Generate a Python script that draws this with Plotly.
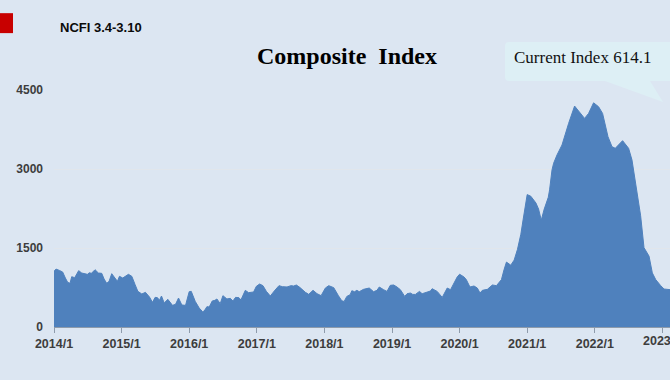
import plotly.graph_objects as go

years = [2014.000,2014.030,2014.079,2014.128,2014.168,2014.202,2014.237,2014.262,2014.306,2014.365,2014.410,2014.494,2014.523,2014.553,2014.607,2014.657,2014.706,2014.741,2014.780,2014.815,2014.854,2014.904,2014.938,2014.968,
2015.017,2015.101,2015.151,2015.200,2015.240,2015.299,2015.353,2015.412,2015.457,2015.496,2015.531,2015.560,2015.590,2015.630,2015.684,2015.753,2015.798,2015.842,2015.891,2015.946,
2016.000,2016.030,2016.089,2016.148,2016.198,2016.222,2016.262,2016.296,2016.341,2016.380,2016.410,2016.459,2016.499,2016.558,2016.607,2016.647,2016.686,2016.736,2016.765,2016.830,2016.879,2016.953,2016.993,
2017.042,2017.091,2017.141,2017.200,2017.259,2017.328,2017.378,2017.427,2017.447,2017.506,2017.546,2017.585,2017.635,2017.719,2017.768,2017.832,2017.891,2017.951,
2018.015,2018.064,2018.138,2018.208,2018.257,2018.292,2018.332,2018.381,2018.406,2018.446,2018.480,2018.515,2018.579,2018.663,2018.728,2018.777,2018.812,2018.876,2018.926,2018.975,
2019.025,2019.074,2019.124,2019.188,2019.223,2019.272,2019.307,2019.347,2019.406,2019.446,2019.505,2019.569,2019.594,2019.668,2019.743,2019.817,2019.866,2019.901,2019.965,
2020.000,2020.064,2020.099,2020.153,2020.213,2020.262,2020.302,2020.337,2020.411,2020.485,2020.545,2020.619,2020.658,2020.693,2020.757,2020.807,2020.856,2020.906,2020.941,2020.970,
2021.000,2021.054,2021.129,2021.168,2021.208,2021.252,2021.312,2021.331,2021.367,2021.391,2021.441,2021.515,2021.564,2021.613,2021.701,2021.786,2021.849,2021.908,2021.982,
2022.056,2022.115,2022.155,2022.195,2022.254,2022.303,2022.411,2022.500,2022.550,2022.624,2022.678,2022.728,2022.802,2022.851,2022.901,2022.975,
2023.025,2023.124]

index_values = [1057,1100,1075,1044,930,848,829,955,936,1070,1025,1000,1030,1019,1088,1025,1019,911,829,867,1012,911,867,962,
930,1000,962,804,677,627,658,570,468,563,557,506,588,456,525,411,430,550,418,411,
671,677,487,360,291,304,386,380,494,506,532,443,595,532,544,494,563,557,513,696,652,665,772,
816,785,677,588,684,785,766,766,760,785,778,797,753,658,620,696,633,595,
741,785,747,593,498,485,581,613,689,670,696,670,715,740,670,696,759,708,676,791,
798,759,708,581,632,645,619,619,676,632,651,683,727,676,562,740,708,804,951,
1002,951,900,759,779,740,645,696,715,798,785,900,1091,1232,1174,1270,1474,1761,2049,2304,
2514,2482,2355,2240,2029,2240,2463,2604,2983,3110,3267,3456,3678,3867,4195,4056,3961,4056,4257,
4182,4056,3835,3614,3424,3393,3538,3393,3172,2604,2112,1506,1346,1027,900,785,
721,708]

x_ticks = [2014,2015,2016,2017,2018,2019,2020,2021,2022,2023]
x_labels = ["2014/1","2015/1","2016/1","2017/1","2018/1","2019/1","2020/1","2021/1","2022/1","2023/1"]
y_ticks = [0,1500,3000,4500]

W, H = 670, 380
L, T, B = 54, 90, 52.5
def px(x): return (x - L) / (W - L)
def py(y): return (H - B - y) / (H - T - B)

tick_font = dict(family="Liberation Sans", size=12.5, color="#3D3D3D", weight="bold")

fig = go.Figure(go.Scatter(x=years, y=index_values, mode="lines", fill="tozeroy",
    line=dict(color="#4F81BD", width=1), fillcolor="#4F81BD", hoverinfo="skip"))

fig.update_layout(
    width=W, height=H, autosize=False, showlegend=False,
    paper_bgcolor="#DCE6F2", plot_bgcolor="#DCE6F2",
    margin=dict(l=L, r=0, t=T, b=B),
    xaxis=dict(range=[2014, 2014 + 616/67.6], tickvals=x_ticks, ticktext=x_labels,
        showgrid=False, showline=True, linecolor="#8E9BAB", linewidth=1,
        ticks="outside", ticklen=5, tickcolor="#8E9BAB", tickwidth=1,
        tickfont=tick_font),
    yaxis=dict(range=[0, 4500], tickvals=y_ticks, showgrid=True, gridcolor="#E1E6EC", gridwidth=1,
        zeroline=False, showline=False, ticks="", ticklabelstandoff=10,
        tickfont=dict(family="Liberation Sans", size=12, color="#3D3D3D", weight="bold")),
    shapes=[
        dict(type="rect", xref="paper", yref="paper", x0=px(0), x1=px(13), y0=py(33), y1=py(13),
             fillcolor="#C80000", line_width=0),
        dict(type="path", xref="paper", yref="paper", fillcolor="#DDEFF5", line_width=0,
             path=f"M {px(509)} {py(42)} L {px(670)} {py(42)} L {px(670)} {py(81)} "
                  f"L {px(650)} {py(81)} L {px(663)} {py(102)} L {px(605)} {py(81)} "
                  f"L {px(509)} {py(81)} Q {px(505)} {py(81)} {px(505)} {py(77)} "
                  f"L {px(505)} {py(46)} Q {px(505)} {py(42)} {px(509)} {py(42)} Z"),
    ],
    annotations=[
        dict(text="NCFI 3.4-3.10", xref="paper", yref="paper", x=px(57.5), y=py(27.5), xanchor="left", yanchor="middle",
             showarrow=False, font=dict(family="Liberation Sans", size=13, color="#0A0A0A", weight="bold")),
        dict(text="Composite\u00a0 Index", xref="paper", yref="paper", x=px(347), y=py(56), xanchor="center", yanchor="middle",
             showarrow=False, font=dict(family="Liberation Serif", size=24, color="#000000", weight="bold")),
        dict(text="Current Index 614.1", xref="paper", yref="paper", x=px(512), y=py(57), xanchor="left", yanchor="middle",
             showarrow=False, font=dict(family="Liberation Serif", size=17, color="#111111")),
        dict(text=x_labels[-1], xref="x", yref="paper", x=x_ticks[-1], y=py(342), xanchor="center", yanchor="middle",
             showarrow=False, font=tick_font),
    ],
)

fig.write_html("out.html", config={"displayModeBar": False},
               post_script="document.body.style.margin='0';document.body.style.overflow='hidden';")
